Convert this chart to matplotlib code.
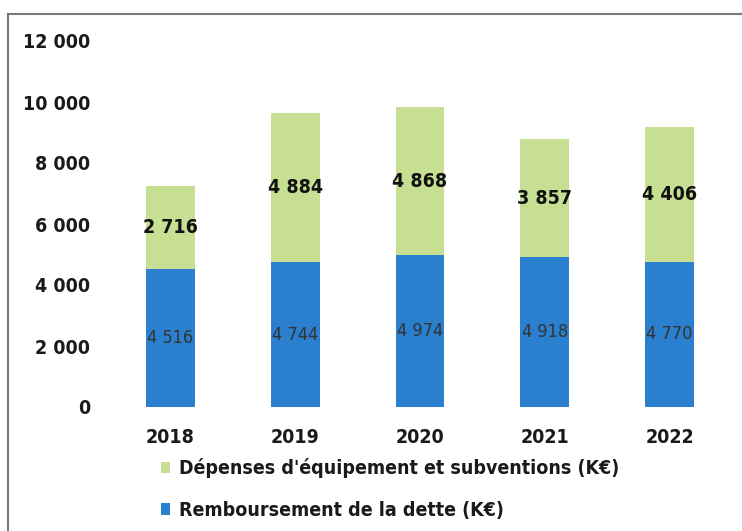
import matplotlib
matplotlib.use("Agg")
import matplotlib.pyplot as plt
from matplotlib.patches import Patch
from matplotlib.lines import Line2D

years = ["2018", "2019", "2020", "2021", "2022"]
dette = [4516, 4744, 4974, 4918, 4770]
equipement = [2716, 4884, 4868, 3857, 4406]
dette_labels = ["4 516", "4 744", "4 974", "4 918", "4 770"]
equip_labels = ["2 716", "4 884", "4 868", "3 857", "4 406"]
yticks = [0, 2000, 4000, 6000, 8000, 10000, 12000]
ytick_labels = ["0", "2 000", "4 000", "6 000", "8 000", "10 000", "12 000"]
series_names = ["Dépenses d'équipement et subventions (K€)", "Remboursement de la dette (K€)"]

plt.rcParams['font.family'] = ['DejaVu Sans']
plt.rcParams['font.stretch'] = 'condensed'

blue = "#2b7fcf"
green = "#c6df93"
W, H = 742, 531
fig = plt.figure(figsize=(W / 100, H / 100), dpi=100)
ax = fig.add_axes([108 / W, (H - 407) / H, 624 / W, 366 / H])

x = list(range(len(years)))
ax.bar(x, dette, width=0.39, color=blue)
ax.bar(x, equipement, width=0.39, bottom=dette, color=green)

for i in x:
    ax.text(i, dette[i] / 2, dette_labels[i], ha="center", va="center",
            fontsize=13, color="#333333", stretch="condensed")
    ax.text(i, dette[i] + equipement[i] / 2, equip_labels[i], ha="center", va="center",
            fontsize=14, fontweight="bold", color="#111111", stretch="condensed")

ax.set_xlim(-0.5, 4.5)
ax.set_ylim(0, 12000)
ax.set_yticks(yticks)
ax.set_yticklabels(ytick_labels, fontsize=14, fontweight="bold", color="#1a1a1a", stretch="condensed")
ax.set_xticks(x)
ax.set_xticklabels(years, fontsize=14, fontweight="bold", color="#1a1a1a", stretch="condensed")
ax.tick_params(axis="y", length=0, pad=13)
ax.tick_params(axis="x", length=0, pad=15)
for s in ax.spines.values():
    s.set_visible(False)

handles = [Patch(facecolor=green, edgecolor="none"), Patch(facecolor=blue, edgecolor="none")]
fig.legend(handles, series_names, loc="upper left", bbox_to_anchor=(143 / W, 1 - 441 / H),
           frameon=False, prop={"size": 14, "weight": "bold", "stretch": "condensed"},
           handlelength=0.5, handleheight=0.5, handletextpad=0.45, labelspacing=1.15,
           labelcolor="#1a1a1a")

fig.add_artist(Line2D([8 / W, 1], [1 - 14 / H, 1 - 14 / H], color="#777777", lw=1.5))
fig.add_artist(Line2D([8 / W, 8 / W], [0, 1 - 14 / H], color="#777777", lw=1.5))

fig.savefig("out.png", dpi=100)
